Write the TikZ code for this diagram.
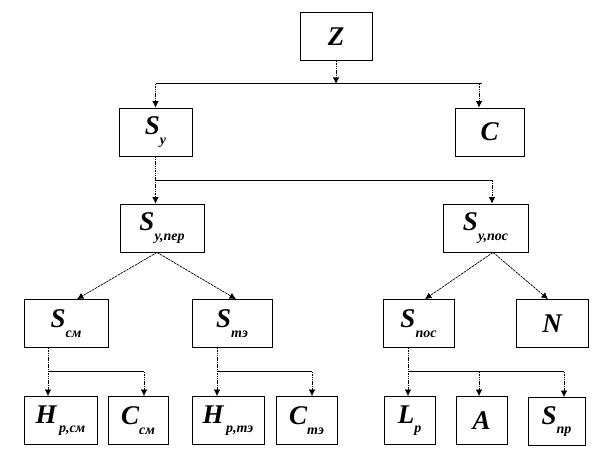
\documentclass[tikz,border=0pt]{standalone}
\usepackage{fontspec}
\setmainfont{Liberation Serif}
\usetikzlibrary{arrows.meta}
\newcommand{\lowsub}[1]{\raisebox{-0.36em}{\fontsize{14}{14}\selectfont #1}}

\begin{document}
\begin{tikzpicture}[x=1pt,y=-1pt,
    box/.style={draw,line width=0.8pt,minimum height=48pt,inner sep=0pt,
      font=\bfseries\itshape\fontsize{27}{27}\selectfont},
    drop/.style={-{Latex[length=6.5pt,width=6.5pt]},line width=0.7pt,
      dash pattern=on 1.5pt off 0.8pt},
    diag/.style={drop,dash pattern=on 2.5pt off 0.8pt},
    bus/.style={line width=0.9pt}]
        \useasboundingbox (0,0) rectangle (612,456);

        \node[box,minimum width=72pt] (Z) at (336,36.5) {Z};

        \node[box,minimum width=73pt] (Sy) at (155.5,132) {S\lowsub{у}};
        \node[box,minimum width=69pt] (C) at (489.5,132) {C};

        \node[box,minimum width=84pt] (Sypr) at (162,228) {S\lowsub{у,пер}};
        \node[box,minimum width=85pt] (Sypos) at (485.5,228) {S\lowsub{у,пос}};

        \node[box,minimum width=84pt] (Scm) at (66,323.5) {S\lowsub{см}};
        \node[box,minimum width=80pt] (Ste) at (232,323.5) {S\lowsub{тэ}};
        \node[box,minimum width=71pt] (Spos) at (418.5,323.5) {S\lowsub{пос}};
        \node[box,minimum width=72pt] (N) at (552,323.5) {N};

        \node[box,minimum width=73pt] (Hcm) at (60.5,420.5) {H\lowsub{\,р,см}};
        \node[box,minimum width=60pt] (Ccm) at (138,420.5) {C\lowsub{см}};
        \node[box,minimum width=72pt] (Hte) at (228,420.5) {H\lowsub{\,р,тэ}};
        \node[box,minimum width=61pt] (Cte) at (306.5,420.5) {C\lowsub{тэ}};
        \node[box,minimum width=51pt] (Lp) at (409.5,420.5) {L\lowsub{р}};
        \node[box,minimum width=51pt] (A) at (481.5,420.5) {A};
        \node[box,minimum width=57pt] (Spr) at (556.5,421.5) {S\lowsub{пр}};

        \draw[drop] (Z.south) -- ++(0,23) coordinate (zBus);
        \coordinate (cIn) at ([xshift=-10.5pt]C.north);
        \draw[bus] (zBus -| Sy.north) -- ([xshift=3pt]zBus -| cIn);
        \draw[drop] (zBus -| Sy.north) -- (Sy.north);
        \draw[drop] (zBus -| cIn) -- (cIn);

        \draw[drop] (Sy.south) -- (Sy.south |- Sypr.north);
        \coordinate (syBus) at ([yshift=-24pt]Sy.south);
        \coordinate (posIn) at ([xshift=6.5pt]Sypos.north);
        \draw[bus] (syBus) -- (syBus -| posIn);
        \draw[drop] (syBus -| posIn) -- (posIn);

        \draw[diag] ([xshift=-5pt]Sypr.south) -- ([xshift=11pt]Scm.north);
        \draw[diag] ([xshift=-5pt]Sypr.south) -- ([xshift=4pt]Ste.north);
        \draw[diag] ([xshift=7.5pt]Sypos.south) -- ([xshift=6.5pt]Spos.north);
        \draw[diag] ([xshift=7.5pt]Sypos.south) -- ([xshift=-4pt]N.north);

        \draw[drop] ([xshift=-18pt]Scm.south) coordinate (cmOut)
          -- (cmOut |- Hcm.north);
        \draw[bus] ([yshift=-24pt]cmOut) -- ++(96,0) coordinate (cmEnd);
        \draw[drop] (cmEnd) -- (cmEnd |- Ccm.north);

        \draw[drop] ([xshift=-15pt]Ste.south) coordinate (teOut)
          -- (teOut |- Hte.north);
        \draw[bus] ([yshift=-24pt]teOut) -- ++(95,0) coordinate (teEnd);
        \draw[drop] (teEnd) -- (teEnd |- Cte.north);

        \draw[drop] ([xshift=-10.5pt]Spos.south) coordinate (posOut)
          -- (posOut |- Lp.north);
        \draw[bus] ([yshift=-24pt]posOut) -- ++(156,0) coordinate (posEnd);
        \draw[drop] ([yshift=-24pt,xshift=71pt]posOut) coordinate (aTop)
          -- (aTop |- A.north);
        \draw[drop] (posEnd) -- (posEnd |- Spr.north);
      \end{tikzpicture}
\end{document}
